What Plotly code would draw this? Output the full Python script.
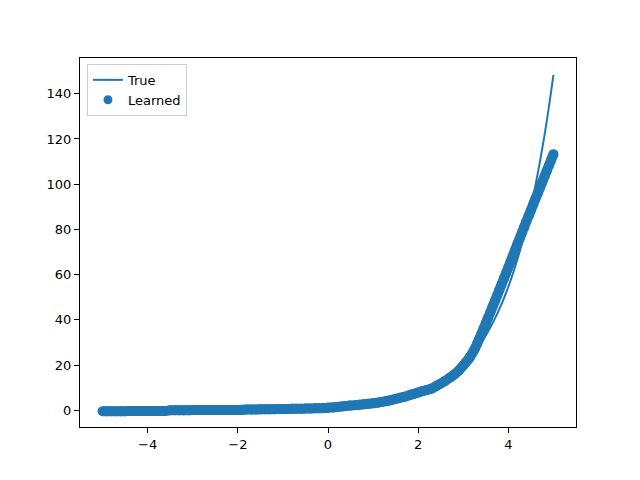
import plotly.graph_objects as go

# "True" curve, values
true_x = [-5.0, -4.5, -4.0, -3.5, -3.0, -2.5, -2.0, -1.5, -1.0, -0.5, 0.0, 0.5, 1.0, 1.5,
          2.0, 2.5, 3.0, 3.25, 3.5, 3.75, 4.0, 4.25, 4.5, 4.6, 4.7, 4.8, 4.9, 5.0]
true_y = [0.007, 0.011, 0.018, 0.03, 0.05, 0.08, 0.14, 0.22, 0.37, 0.61, 1.0, 1.65, 2.72, 4.48,
          7.39, 12.18, 20.09, 25.79, 33.12, 42.52, 54.6, 70.11, 90.02, 99.48, 109.95, 121.51, 134.29, 148.41]

# "Learned" scatter points
learned_x = [-5.0, -4.9, -4.8, -4.7, -4.6, -4.5, -4.4, -4.3, -4.2, -4.1, -4.0, -3.9, -3.8, -3.7, -3.6,
             -3.5, -3.4, -3.3, -3.2, -3.1, -3.0, -2.9, -2.8, -2.7, -2.6, -2.5, -2.4, -2.3, -2.2, -2.1, -2.0, -1.9,
             -1.8, -1.7, -1.6, -1.5, -1.4, -1.3, -1.2, -1.1, -1.0, -0.9, -0.8, -0.7, -0.6, -0.5, -0.4, -0.3, -0.2, -0.1,
             0.0, 0.1, 0.2, 0.3, 0.4, 0.5, 0.6, 0.7, 0.8, 0.9, 1.0, 1.1, 1.2, 1.3, 1.4, 1.5, 1.6, 1.7, 1.8, 1.9,
             2.0, 2.1, 2.2, 2.3, 2.4, 2.5, 2.6, 2.7, 2.8, 2.9, 3.0,
             3.05, 3.1, 3.15, 3.2, 3.25, 3.3, 3.35, 3.4, 3.45, 3.5, 3.55, 3.6, 3.65, 3.7, 3.75, 3.8, 3.85, 3.9, 3.95,
             4.0, 4.05, 4.1, 4.15, 4.2, 4.25, 4.3, 4.35, 4.4, 4.45, 4.5, 4.55, 4.6, 4.65, 4.7, 4.75, 4.8, 4.85, 4.9, 4.95, 5.0]
learned_y = [-0.45, -0.44, -0.43, -0.42, -0.41, -0.40, -0.39, -0.38, -0.37, -0.36, -0.35, -0.34, -0.33, -0.32, -0.31,
             0.00, 0.01, 0.02, 0.03, 0.04, 0.05, 0.06, 0.07, 0.08, 0.09, 0.10, 0.11, 0.12, 0.13, 0.14, 0.15, 0.16,
             0.30, 0.33, 0.36, 0.39, 0.42, 0.45, 0.48, 0.51, 0.54, 0.57, 0.60, 0.64, 0.68, 0.72, 0.78, 0.84, 0.90, 0.96,
             1.10, 1.25, 1.45, 1.65, 1.85, 2.05, 2.25, 2.45, 2.65, 2.85, 3.05, 3.35, 3.7, 4.05, 4.5, 5.0, 5.5, 6.0, 6.6, 7.2,
             7.8, 8.5, 9.0, 9.6, 10.7, 11.8, 13.0, 14.4, 15.8, 17.6, 19.8,
             21.0, 22.2, 23.6, 25.2, 27.0, 29.1, 31.4, 33.7, 36.1, 38.5, 40.9, 43.3, 45.8, 48.2, 50.7, 53.2, 55.7, 58.2, 60.7,
             63.2, 65.7, 68.3, 70.9, 73.5, 76.0, 78.5, 81.0, 83.6, 86.0, 88.5, 91.0, 93.5, 95.9, 98.4, 100.9, 103.4, 105.9, 108.3, 110.8, 113.3]

x_ticks = [-4, -2, 0, 2, 4]
y_ticks = [0, 20, 40, 60, 80, 100, 120, 140]

blue = "#1f77b4"

fig = go.Figure()
# dense learned points, drawn as touching markers joined into one band
fig.add_trace(go.Scatter(x=learned_x, y=learned_y, mode="lines+markers", name="Learned",
                         line=dict(color=blue, width=10, shape="spline", smoothing=0.6),
                         marker=dict(color=blue, size=10, line=dict(width=0)),
                         showlegend=False, hoverinfo="x+y"))
fig.add_trace(go.Scatter(x=true_x, y=true_y, mode="lines", name="True",
                         line=dict(color=blue, width=2, shape="spline", smoothing=0.6), legendrank=1))
# legend entry for the learned scatter
fig.add_trace(go.Scatter(x=[None], y=[None], mode="markers", name="Learned",
                         marker=dict(color=blue, size=9, line=dict(width=0)), legendrank=2))

axis_common = dict(showgrid=False, zeroline=False, showline=True, linecolor="black", linewidth=1,
                   mirror=True, ticks="outside", ticklen=5, tickwidth=1, tickcolor="black",
                   tickfont=dict(family="DejaVu Sans", size=13, color="black"))

fig.update_layout(
    width=632, height=472,
    margin=dict(l=72, r=64, t=50, b=53),
    paper_bgcolor="white", plot_bgcolor="white",
    font=dict(family="DejaVu Sans", size=13, color="black"),
    xaxis=dict(range=[-5.5, 5.5], tickvals=x_ticks, **axis_common),
    yaxis=dict(range=[-7.42, 155.83], tickvals=y_ticks, **axis_common),
    legend=dict(x=0.014, y=0.984, xanchor="left", yanchor="top", bgcolor="white",
                bordercolor="#cccccc", borderwidth=1, font=dict(family="DejaVu Sans", size=13),
                itemwidth=30, tracegroupgap=0),
    showlegend=True,
)

fig.write_html("out.html")
